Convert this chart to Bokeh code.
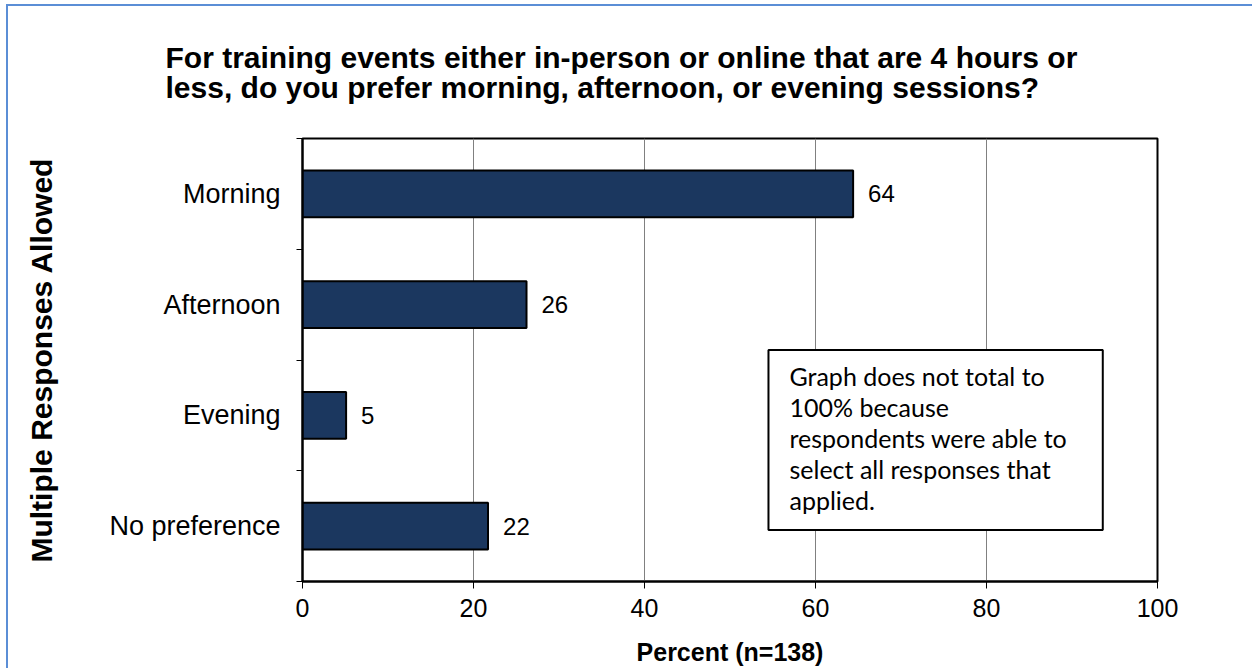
from bokeh.plotting import figure
from bokeh.models import (FixedTicker, Label, LabelSet, ColumnDataSource,
                          BoxAnnotation, Title)
from bokeh.core.properties import value
from bokeh.embed import file_html
from bokeh.resources import INLINE

# ---- data ----
categories = ["Morning", "Afternoon", "Evening", "No preference"]
percents = [64.4, 26.2, 5.1, 21.7]
value_labels = ["64", "26", "5", "22"]
x_ticks = [0, 20, 40, 60, 80, 100]
title_lines = ["For training events either in-person or online that are 4 hours or",
               "less, do you prefer morning, afternoon, or evening sessions?"]
note_lines = ["Graph does not total to", "100% because",
              "respondents were able to", "select all responses that",
              "applied."]
x_title = "Percent (n=138)"
y_title = "Multiple Responses Allowed"

n = len(categories)
ypos = [n - 1 - i for i in range(n)]

ARIAL = "Liberation Sans"
BLUE = "#5b8ed6"

p = figure(width=1252, height=668, x_range=(0, 100), y_range=(-0.5, n - 0.5),
           output_backend="svg", toolbar_location=None, title=None,
           min_border_left=302, min_border_right=95,
           min_border_top=138, min_border_bottom=79)
p.background_fill_color = "white"
p.border_fill_color = None
p.outline_line_color = "black"
p.outline_line_width = 2
# thin blue page frame along the left and top edges
p.styles = {
    "background-color": "white",
    "box-shadow": f"inset 6px 4px 0 0 white, inset 8px 6px 0 0 {BLUE}",
}

src = ColumnDataSource(dict(y=ypos, v=percents, lab=value_labels, cat=categories))
p.hbar(y="y", right="v", left=0, height=0.42, source=src,
       fill_color="#1b375f", line_color="black", line_width=2)

p.add_layout(LabelSet(x="v", y="y", text="lab", source=src, x_offset=15,
                      text_baseline="middle", text_align="left",
                      text_font=value(ARIAL), text_font_size="24px",
                      text_color="black"))

# x axis
xa = p.xaxis[0]
xa.ticker = FixedTicker(ticks=x_ticks, minor_ticks=[])
xa.major_tick_out = 7
xa.major_tick_in = 0
xa.minor_tick_out = 0
xa.axis_line_width = 2
xa.axis_line_color = "black"
xa.major_tick_line_color = "black"
xa.major_label_text_font = ARIAL
xa.major_label_text_font_size = "25px"
xa.major_label_text_color = "black"
xa.major_label_standoff = 10
xa.axis_label = x_title
xa.axis_label_text_font = ARIAL
xa.axis_label_text_font_style = "bold"
xa.axis_label_text_font_size = "25px"
xa.axis_label_text_color = "black"
xa.axis_label_standoff = 18

# y axis
ya = p.yaxis[0]
ya.ticker = FixedTicker(ticks=ypos, minor_ticks=[k - 0.5 for k in range(n + 1)])
ya.major_label_overrides = {y: c for y, c in zip(ypos, categories)}
ya.major_tick_out = 0
ya.major_tick_in = 0
ya.minor_tick_out = 6
ya.minor_tick_in = 0
ya.minor_tick_line_color = "black"
ya.axis_line_width = 2
ya.axis_line_color = "black"
ya.major_label_text_font = ARIAL
ya.major_label_text_font_size = "27px"
ya.major_label_text_color = "black"
ya.major_label_standoff = 16
ya.axis_label = y_title
ya.axis_label_text_font = ARIAL
ya.axis_label_text_font_style = "bold"
ya.axis_label_text_font_size = "30px"
ya.axis_label_text_color = "black"
ya.axis_label_standoff = 48

p.ygrid.grid_line_color = None
p.xgrid.ticker = FixedTicker(ticks=x_ticks, minor_ticks=[])
p.xgrid.grid_line_color = "#808080"
p.xgrid.grid_line_width = 1

# two-line title, left aligned and pulled left of the frame
p.add_layout(Title(text="\n".join(title_lines), align="left", offset=-137,
                   vertical_align="top", standoff=64, text_font=ARIAL,
                   text_font_style="bold", text_font_size="30px",
                   text_line_height=0.93, text_color="black"), "above")

# note box
p.add_layout(BoxAnnotation(left=54.5, right=93.6, top=1.59, bottom=-0.035,
                           fill_color="white", fill_alpha=1.0,
                           line_color="black", line_width=2, line_alpha=1.0))
for i, t in enumerate(note_lines):
    p.add_layout(Label(x=54.5, y=1.59, x_offset=21, y_offset=-26 - 31 * i,
                       text=t, text_align="left", text_baseline="middle",
                       text_font="Lato", text_font_size="25px",
                       text_color="black"))

open("out.html", "w").write(file_html(p, INLINE))
